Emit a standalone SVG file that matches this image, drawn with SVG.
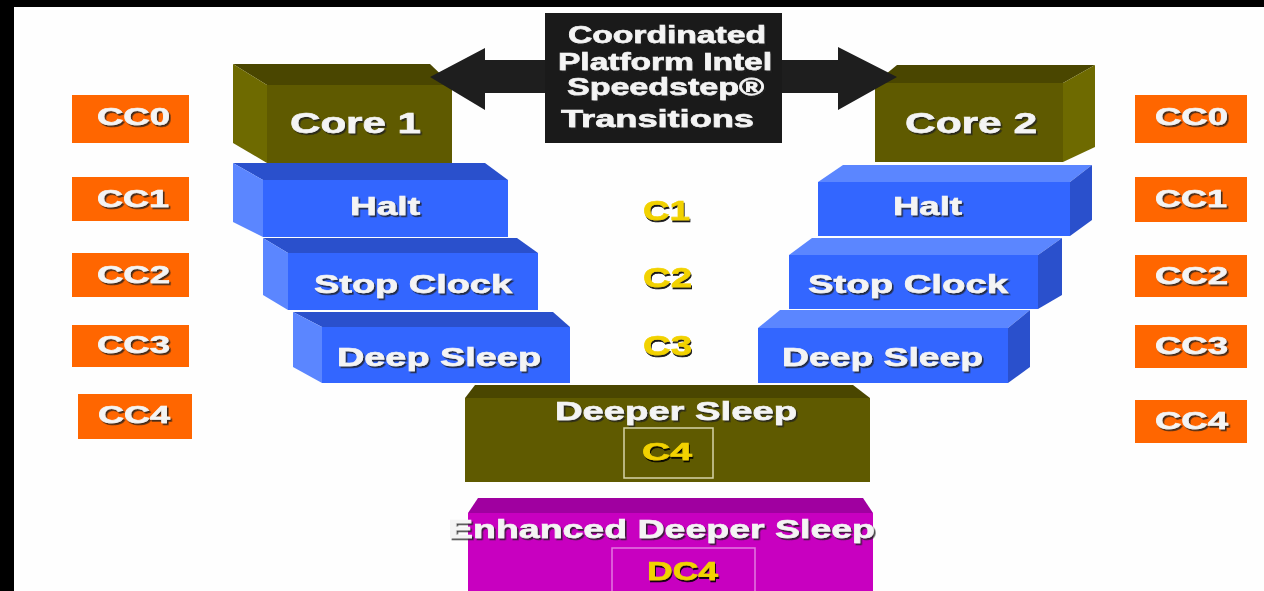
<svg xmlns="http://www.w3.org/2000/svg" width="1264" height="591" viewBox="0 0 1264 591">
<style>
.t{font-family:"Liberation Sans",Arial,sans-serif;font-weight:bold;fill:#f4f4f4;stroke:#f4f4f4;stroke-width:0.6;filter:url(#sh)}
.y{font-family:"Liberation Sans",Arial,sans-serif;font-weight:bold;fill:#f2d200;stroke:#f2d200;stroke-width:0.6;filter:url(#shy)}
.cc{fill:#ff6600}
.bf{fill:#3366ff}.bd{fill:#2a50cc}.bl{fill:#5b86ff}
.of{fill:#5f5a00}.od{fill:#4a4600}.ol{fill:#6e6a00}
.mf{fill:#c800c0}.md{fill:#a000a0}
</style>
<defs>
<filter id="sh" x="-10%" y="-30%" width="130%" height="170%">
<feDropShadow dx="1.6" dy="1.8" stdDeviation="0.6" flood-color="#222" flood-opacity="0.85"/>
</filter>
<filter id="shy" x="-10%" y="-30%" width="130%" height="170%">
<feDropShadow dx="1" dy="2" stdDeviation="0.5" flood-color="#000" flood-opacity="0.9"/>
</filter>
</defs>
<rect x="0" y="0" width="1264" height="591" fill="#fefefe"/>
<rect x="0" y="0" width="1264" height="7" fill="#000"/>
<rect x="0" y="0" width="14" height="591" fill="#000"/>

<!-- CC labels left -->
<g id="cc0-left"><rect class="cc" x="72" y="95" width="117" height="48"/><text class="t" x="97" y="125" font-size="24" textLength="73" lengthAdjust="spacingAndGlyphs">CC0</text></g>
<g id="cc1-left"><rect class="cc" x="72" y="177" width="117" height="44"/><text class="t" x="97" y="207" font-size="24" textLength="72" lengthAdjust="spacingAndGlyphs">CC1</text></g>
<g id="cc2-left"><rect class="cc" x="72" y="253" width="117" height="44"/><text class="t" x="97" y="283" font-size="24" textLength="73" lengthAdjust="spacingAndGlyphs">CC2</text></g>
<g id="cc3-left"><rect class="cc" x="72" y="325" width="117" height="42"/><text class="t" x="97" y="353" font-size="24" textLength="73" lengthAdjust="spacingAndGlyphs">CC3</text></g>
<g id="cc4-left"><rect class="cc" x="78" y="394" width="114" height="45"/><text class="t" x="98" y="423" font-size="24" textLength="72" lengthAdjust="spacingAndGlyphs">CC4</text></g>

<!-- CC labels right -->
<g id="cc0-right"><rect class="cc" x="1135" y="95" width="112" height="48"/><text class="t" x="1155" y="125" font-size="24" textLength="73" lengthAdjust="spacingAndGlyphs">CC0</text></g>
<g id="cc1-right"><rect class="cc" x="1135" y="177" width="112" height="45"/><text class="t" x="1155" y="207" font-size="24" textLength="72" lengthAdjust="spacingAndGlyphs">CC1</text></g>
<g id="cc2-right"><rect class="cc" x="1135" y="255" width="112" height="42"/><text class="t" x="1155" y="284" font-size="24" textLength="73" lengthAdjust="spacingAndGlyphs">CC2</text></g>
<g id="cc3-right"><rect class="cc" x="1135" y="325" width="112" height="43"/><text class="t" x="1155" y="354" font-size="24" textLength="73" lengthAdjust="spacingAndGlyphs">CC3</text></g>
<g id="cc4-right"><rect class="cc" x="1135" y="400" width="112" height="43"/><text class="t" x="1155" y="429" font-size="24" textLength="73" lengthAdjust="spacingAndGlyphs">CC4</text></g>

<!-- Core 1 -->
<g id="core1">
<polygon class="od" points="233,64 430,64 452,85 267,85"/>
<polygon class="ol" points="233,64 267,85 267,163 233,143"/>
<rect class="of" x="267" y="85" width="185" height="78"/>
<text class="t" x="290" y="133" font-size="30" textLength="131" lengthAdjust="spacingAndGlyphs">Core 1</text>
</g>

<!-- Core 2 -->
<g id="core2">
<polygon class="od" points="875,83 897,65 1095,65 1063,83"/>
<polygon class="ol" points="1063,83 1095,65 1095,147 1063,162"/>
<rect class="of" x="875" y="83" width="188" height="79"/>
<text class="t" x="905" y="133" font-size="30" textLength="132" lengthAdjust="spacingAndGlyphs">Core 2</text>
</g>

<!-- Left staircase -->
<g id="halt-left">
<polygon class="bd" points="233,163 485,163 508,180 263,180"/>
<polygon class="bl" points="233,163 263,180 263,237 233,222"/>
<rect class="bf" x="263" y="180" width="245" height="57"/>
<text class="t" x="350" y="215" font-size="25" textLength="70" lengthAdjust="spacingAndGlyphs">Halt</text>
</g>
<g id="stopclock-left">
<polygon class="bd" points="263,238 517,238 538,253 288,253"/>
<polygon class="bl" points="263,238 288,253 288,310 263,295"/>
<rect class="bf" x="288" y="253" width="250" height="57"/>
<text class="t" x="314" y="293" font-size="25" textLength="198" lengthAdjust="spacingAndGlyphs">Stop Clock</text>
</g>
<g id="deepsleep-left">
<polygon class="bd" points="293,312 553,312 570,327 322,327"/>
<polygon class="bl" points="293,312 322,327 322,383 293,367"/>
<rect class="bf" x="322" y="327" width="248" height="56"/>
<text class="t" x="337" y="366" font-size="25" textLength="204" lengthAdjust="spacingAndGlyphs">Deep Sleep</text>
</g>

<!-- Right staircase -->
<g id="halt-right">
<polygon class="bl" points="818,182 843,165 1092,165 1070,182"/>
<polygon class="bd" points="1070,182 1092,165 1092,220 1070,236"/>
<rect class="bf" x="818" y="182" width="252" height="54"/>
<text class="t" x="893" y="215" font-size="25" textLength="69" lengthAdjust="spacingAndGlyphs">Halt</text>
</g>
<g id="stopclock-right">
<polygon class="bl" points="789,255 812,238 1062,238 1038,255"/>
<polygon class="bd" points="1038,255 1062,238 1062,295 1038,309"/>
<rect class="bf" x="789" y="255" width="249" height="54"/>
<text class="t" x="808" y="293" font-size="25" textLength="200" lengthAdjust="spacingAndGlyphs">Stop Clock</text>
</g>
<g id="deepsleep-right">
<polygon class="bl" points="758,328 780,310 1030,310 1008,328"/>
<polygon class="bd" points="1008,328 1030,310 1030,367 1008,383"/>
<rect class="bf" x="758" y="328" width="250" height="55"/>
<text class="t" x="782" y="366" font-size="25" textLength="201" lengthAdjust="spacingAndGlyphs">Deep Sleep</text>
</g>

<!-- Package C-state labels -->
<g id="c-labels">
<text class="y" x="643" y="220" font-size="27" textLength="47" lengthAdjust="spacingAndGlyphs">C1</text>
<text class="y" x="643" y="287" font-size="27" textLength="49" lengthAdjust="spacingAndGlyphs">C2</text>
<text class="y" x="643" y="355" font-size="27" textLength="49" lengthAdjust="spacingAndGlyphs">C3</text>
</g>

<!-- Deeper Sleep -->
<g id="deeper-sleep">
<polygon class="od" points="465,398 475,385 853,385 870,398"/>
<rect class="of" x="465" y="398" width="405" height="84"/>
<text class="t" x="555" y="420" font-size="25" textLength="242" lengthAdjust="spacingAndGlyphs">Deeper Sleep</text>
<rect x="624" y="428" width="89" height="50" fill="none" stroke="#d6d4a8" stroke-width="1.5"/>
<text class="y" x="642" y="460" font-size="24" textLength="50" lengthAdjust="spacingAndGlyphs">C4</text>
</g>

<!-- Enhanced Deeper Sleep -->
<g id="enhanced-deeper-sleep">
<polygon class="md" points="468,513 478,498 863,498 873,513"/>
<rect class="mf" x="468" y="513" width="405" height="80"/>
<text class="t" x="448" y="538" font-size="25" textLength="427" lengthAdjust="spacingAndGlyphs">Enhanced Deeper Sleep</text>
<rect x="612" y="548" width="143" height="50" fill="none" stroke="#e27ae0" stroke-width="1.5"/>
<text class="y" x="647" y="580" font-size="26" textLength="71" lengthAdjust="spacingAndGlyphs">DC4</text>
</g>

<!-- Connectors -->
<g id="connectors">
<polygon fill="#1e1e1e" points="430,77 485,48 485,60 838,60 838,47 897,77 838,110 838,93 485,93 485,110"/>
</g>

<!-- Transition label -->
<g id="transitions">
<rect x="545" y="13" width="237" height="130" fill="#1a1a1a"/>
<text class="t" x="568" y="43" font-size="23" textLength="198" lengthAdjust="spacingAndGlyphs">Coordinated</text>
<text class="t" x="558" y="70" font-size="23" textLength="214" lengthAdjust="spacingAndGlyphs">Platform Intel</text>
<text class="t" x="567" y="95" font-size="23" textLength="197" lengthAdjust="spacingAndGlyphs">Speedstep®</text>
<text class="t" x="561" y="127" font-size="23" textLength="193" lengthAdjust="spacingAndGlyphs">Transitions</text>
</g>
</svg>
